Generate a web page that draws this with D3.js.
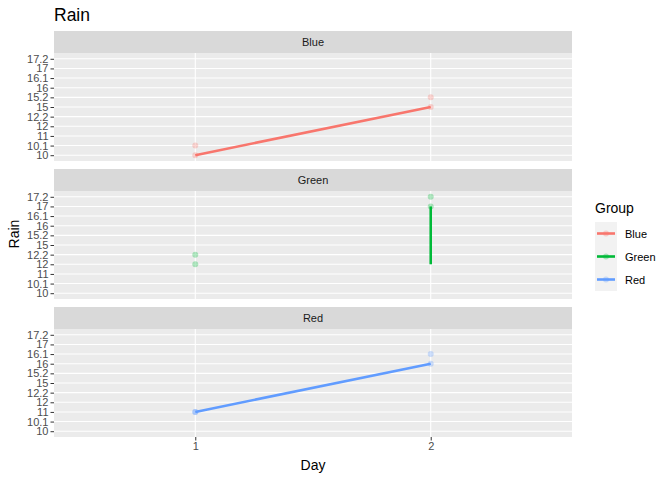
<!DOCTYPE html>
<html>
<head>
<meta charset="utf-8">
<script src="https://cdn.jsdelivr.net/npm/d3@7"></script>
<style>
  body { margin: 0; background: #fff; }
  text { font-family: "Liberation Sans", Arial, sans-serif; }
</style>
</head>
<body>
<div id="page"></div>
<script>
// discrete y levels (factor order)
const rainLevels = ['10', '10.1', '11', '12', '12.2', '15', '15.2', '16', '16.1', '17', '17.2'];
const days = ['1', '2'];
const groups = ['Blue', 'Green', 'Red'];
const groupColors = ['#F8766D', '#00BA38', '#619CFF'];

// raw observations
const pointGroup = ['Blue', 'Blue', 'Blue', 'Blue', 'Green', 'Green', 'Green', 'Green', 'Red', 'Red', 'Red', 'Red'];
const pointDay   = ['1', '1', '2', '2', '1', '1', '2', '2', '1', '1', '2', '2'];
const pointRain  = ['10', '10.1', '15', '15.2', '12', '12.2', '17', '17.2', '11', '11', '16', '16.1'];

// line segments per group
const lineGroup = ['Blue', 'Blue', 'Green', 'Green', 'Red', 'Red'];
const lineDay   = ['1', '2', '2', '2', '1', '2'];
const lineRain  = ['10', '15', '12', '17', '11', '16'];

const width = 672;
const height = 480;

const left = 54, right = 572;
const stripH = 22;
const panelH = 108;
const gap = 8;
const top0 = 31;

const color = d3.scaleOrdinal().domain(groups).range(groupColors);

// discrete scale with ggplot's 0.6 expansion
const x = d3.scaleLinear().domain([0.4, days.length + 0.6]).range([left, right]);
const xPos = d => x(days.indexOf(d) + 1);

const svg = d3.select('#page')
              .append('svg')
              .attr('width', width)
              .attr('height', height);

svg.append('text')
   .attr('x', left)
   .attr('y', 21)
   .style('font-size', '17.5px')
   .attr('fill', '#000')
   .text('Rain');

groups.forEach((g, gi) => {
    const stripTop = top0 + gi * (stripH + panelH + gap);
    const pTop = stripTop + stripH;
    const y = d3.scaleLinear().domain([0.4, rainLevels.length + 0.6]).range([pTop + panelH, pTop]);
    const yPos = v => y(rainLevels.indexOf(v) + 1);

    svg.append('rect')
       .attr('x', left).attr('y', stripTop)
       .attr('width', right - left).attr('height', stripH)
       .attr('fill', '#d9d9d9');
    svg.append('text')
       .attr('x', (left + right) / 2)
       .attr('y', stripTop + stripH / 2 + 4)
       .attr('text-anchor', 'middle')
       .style('font-size', '11px')
       .attr('fill', '#1a1a1a')
       .text(g);

    const panel = svg.append('g');
    panel.append('rect')
         .attr('x', left).attr('y', pTop)
         .attr('width', right - left).attr('height', panelH)
         .attr('fill', '#ebebeb');

    panel.selectAll('.hgrid')
         .data(rainLevels)
         .enter()
         .append('line')
         .attr('x1', left).attr('x2', right)
         .attr('y1', d => yPos(d)).attr('y2', d => yPos(d))
         .attr('stroke', '#fff').attr('stroke-width', 1.1);

    panel.selectAll('.vgrid')
         .data(days)
         .enter()
         .append('line')
         .attr('y1', pTop).attr('y2', pTop + panelH)
         .attr('x1', d => xPos(d)).attr('x2', d => xPos(d))
         .attr('stroke', '#fff').attr('stroke-width', 1.1);

    // y axis
    const yAxis = svg.append('g')
                     .attr('transform', `translate(${left},0)`)
                     .call(d3.axisLeft(d3.scalePoint().domain(rainLevels)
                                          .range([yPos(rainLevels[0]), yPos(rainLevels[rainLevels.length - 1])]))
                           .tickSize(3.5).tickPadding(2));
    yAxis.select('.domain').remove();
    yAxis.selectAll('line').attr('stroke', '#333');
    yAxis.selectAll('text')
         .style('font-size', '11px')
         .style('font-family', '"Liberation Sans", Arial, sans-serif')
         .attr('fill', '#4d4d4d');

    // lines
    const segs = lineGroup.map((lg, i) => ({ g: lg, day: lineDay[i], rain: lineRain[i] }))
                          .filter(d => d.g === g);
    panel.append('path')
         .datum(segs)
         .attr('fill', 'none')
         .attr('stroke', color(g))
         .attr('stroke-width', 2.6)
         .attr('d', d3.line().x(d => xPos(d.day)).y(d => yPos(d.rain)));

    // points
    const pts = pointGroup.map((pg, i) => ({ g: pg, day: pointDay[i], rain: pointRain[i] }))
                          .filter(d => d.g === g);
    panel.selectAll('circle')
         .data(pts)
         .enter()
         .append('circle')
         .attr('cx', d => xPos(d.day))
         .attr('cy', d => yPos(d.rain))
         .attr('r', 3)
         .attr('fill', color(g))
         .attr('fill-opacity', 0.3);

    if (gi === groups.length - 1) {
        const xAxis = svg.append('g')
                         .attr('transform', `translate(0,${pTop + panelH})`)
                         .call(d3.axisBottom(d3.scalePoint().domain(days).range([xPos('1'), xPos('2')]))
                               .tickSize(3.5).tickPadding(2));
        xAxis.select('.domain').remove();
        xAxis.selectAll('line').attr('stroke', '#333');
        xAxis.selectAll('text')
             .style('font-size', '11px')
             .style('font-family', '"Liberation Sans", Arial, sans-serif')
             .attr('fill', '#4d4d4d');
    }
});

// axis titles
svg.append('text')
   .attr('x', (left + right) / 2)
   .attr('y', 470)
   .attr('text-anchor', 'middle')
   .style('font-size', '14px')
   .text('Day');

svg.append('text')
   .attr('transform', `translate(19,${(top0 + 3 * (stripH + panelH) + 2 * gap + top0) / 2}) rotate(-90)`)
   .attr('text-anchor', 'middle')
   .style('font-size', '14px')
   .text('Rain');

// legend
const legX = 595, legY = 222, keyH = 23, keyW = 22;
svg.append('text')
   .attr('x', legX)
   .attr('y', 213)
   .style('font-size', '14px')
   .text('Group');

const lg = svg.selectAll('.legend-item')
              .data(groups)
              .enter()
              .append('g')
              .attr('transform', (d, i) => `translate(${legX},${legY + i * keyH})`);

lg.append('rect')
  .attr('width', keyW).attr('height', keyH)
  .attr('fill', '#f2f2f2');
lg.append('line')
  .attr('x1', 2).attr('x2', keyW - 2)
  .attr('y1', keyH / 2).attr('y2', keyH / 2)
  .attr('stroke', d => color(d))
  .attr('stroke-width', 2.6);
lg.append('circle')
  .attr('cx', keyW / 2).attr('cy', keyH / 2)
  .attr('r', 3)
  .attr('fill', d => color(d))
  .attr('fill-opacity', 0.3);
lg.append('text')
  .attr('x', keyW + 8)
  .attr('y', keyH / 2 + 4)
  .style('font-size', '11px')
  .text(d => d);
</script>
</body>
</html>
